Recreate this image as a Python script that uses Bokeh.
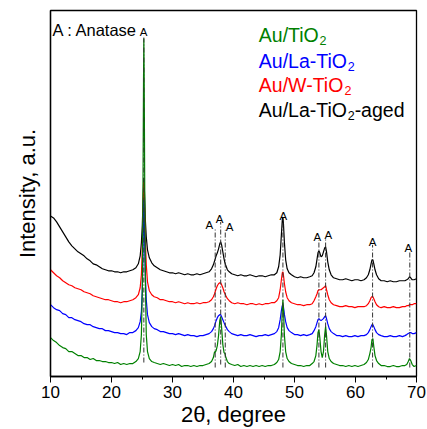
from bokeh.plotting import figure
from bokeh.models import Range1d, FixedTicker, Label
from bokeh.embed import file_html
from bokeh.resources import INLINE
from bokeh.core.properties import value

# ---------------- data ----------------
two_theta = [
    10, 10.5, 11, 11.5, 12, 12.5, 13, 13.5, 14, 14.5, 15, 15.5, 16, 16.5, 17, 17.5, 18, 18.5, 19, 19.5, 20, 20.5, 21, 21.5, 22, 22.5, 23, 23.5, 24,
    24.4, 24.7, 24.9, 25.05, 25.15, 25.25, 25.3, 25.35, 25.45, 25.55, 25.7, 25.9, 26.2, 26.6,
    27, 27.5, 28, 28.5, 29, 29.5, 30, 30.5, 31, 31.5, 32, 32.5, 33, 33.5, 34, 34.5, 35, 35.5, 36,
    36.4, 36.7, 36.9, 37.0, 37.15, 37.35, 37.55, 37.75, 37.9, 38.05, 38.25, 38.45, 38.6, 38.75, 39.0, 39.3, 39.7,
    40.2, 40.7, 41.2, 41.7, 42.2, 42.7, 43.2, 43.7, 44.2, 44.7, 45.2, 45.7, 46.2, 46.7,
    47.1, 47.4, 47.65, 47.85, 48.0, 48.1, 48.2, 48.35, 48.55, 48.8, 49.1, 49.5,
    50, 50.5, 51, 51.5, 52, 52.5,
    52.9, 53.2, 53.5, 53.7, 53.85, 54.0, 54.15, 54.35, 54.55, 54.75, 54.95, 55.1, 55.25, 55.45, 55.7, 56.0, 56.4,
    56.9, 57.4, 57.9, 58.4, 58.9, 59.4, 59.9, 60.4, 60.9, 61.4,
    61.8, 62.1, 62.35, 62.55, 62.7, 62.85, 63.0, 63.2, 63.45, 63.8,
    64.2, 64.7, 65.2, 65.7, 66.2, 66.7, 67.2, 67.7,
    68.1, 68.4, 68.65, 68.85, 69.05, 69.3, 69.6, 70,
]

au_tio2 = [
    39, 36, 34, 31, 29, 28, 25, 25, 23, 21, 21, 19, 19, 17, 18, 16, 16, 15, 15, 14, 14, 13, 14, 12, 13, 12, 13, 13, 15,
    18, 25, 42, 87, 177, 297, 339, 307, 187, 97, 42, 25, 18, 15,
    14, 13, 12, 13, 12, 11, 12, 11, 12, 10, 11, 11, 10, 11, 10, 11, 11, 12, 13,
    15, 19, 25, 24, 26, 31, 41, 56, 60, 49, 32, 24, 23, 19, 15, 13, 12,
    11, 12, 10, 11, 10, 11, 10, 11, 10, 11, 10, 11, 11, 12,
    14, 17, 25, 42, 67, 77, 66, 41, 25, 18, 15, 13,
    12, 11, 11, 10, 11, 11,
    13, 15, 21, 32, 44, 47, 39, 25, 19, 25, 42, 50, 41, 25, 18, 15, 13,
    12, 11, 11, 10, 11, 10, 11, 10, 11, 12,
    14, 17, 23, 29, 37, 38, 30, 21, 16, 13,
    11, 11, 10, 10, 11, 10, 10, 11,
    11, 12, 15, 18, 16, 12, 10, 11,
]

au_la_tio2 = [
    72, 69, 67, 66, 63, 62, 59, 59, 57, 56, 55, 53, 52, 52, 50, 49, 48, 48, 46, 46, 45, 44, 44, 43, 43, 42, 44, 44, 46,
    49, 55, 65, 87, 117, 162, 177, 165, 132, 102, 77, 62, 54, 50,
    48, 47, 45, 45, 44, 43, 43, 42, 43, 42, 41, 42, 41, 41, 40, 41, 41, 42, 43,
    45, 48, 51, 53, 56, 59, 61, 62, 62, 60, 57, 54, 52, 50, 47, 45, 43,
    42, 41, 42, 41, 41, 42, 41, 40, 41, 41, 42, 41, 42, 43,
    45, 49, 57, 66, 71, 72, 69, 62, 55, 49, 46, 44,
    42, 42, 41, 42, 41, 42,
    43, 46, 50, 54, 57, 58, 57, 56, 57, 58, 60, 61, 58, 53, 48, 45, 43,
    41, 41, 40, 41, 40, 40, 41, 40, 41, 41,
    42, 44, 47, 50, 52, 52, 50, 47, 44, 42,
    41, 40, 40, 41, 40, 40, 41, 40,
    41, 42, 43, 44, 44, 43, 43, 44,
]

au_w_tio2 = [
    107, 104, 101, 99, 96, 94, 92, 91, 89, 88, 87, 85, 84, 83, 81, 80, 79, 78, 77, 77, 76, 75, 75, 74, 75, 75, 76, 77, 79,
    82, 89, 102, 127, 157, 187, 195, 187, 162, 137, 112, 95, 86, 82,
    80, 79, 77, 77, 76, 75, 75, 74, 75, 74, 73, 74, 73, 73, 74, 73, 74, 74, 75,
    77, 80, 83, 85, 88, 91, 93, 94, 94, 92, 89, 85, 83, 81, 78, 76, 74,
    73, 74, 73, 73, 72, 73, 73, 72, 73, 72, 73, 73, 74, 74,
    76, 79, 87, 97, 104, 105, 101, 93, 85, 79, 76, 74,
    73, 72, 72, 71, 72, 72,
    73, 76, 80, 83, 86, 87, 87, 87, 88, 89, 90, 91, 87, 82, 77, 74, 72,
    71, 70, 70, 71, 70, 70, 69, 70, 70, 70,
    71, 73, 76, 79, 80, 80, 78, 75, 72, 70,
    69, 70, 69, 69, 70, 69, 69, 70,
    70, 71, 71, 72, 72, 72, 73, 73,
]

au_la_tio2_aged = [
    161, 159, 155, 150, 145, 140, 135, 131, 128, 125, 123, 121, 118, 116, 113, 112, 110, 108, 107, 106, 106, 105, 105, 104, 105, 105, 106, 107, 109,
    113, 121, 134, 152, 172, 192, 199, 194, 177, 157, 140, 127, 119, 114,
    111, 109, 107, 106, 105, 104, 104, 103, 104, 103, 102, 103, 102, 102, 103, 102, 103, 104, 105,
    108, 112, 116, 118, 121, 124, 128, 133, 135, 132, 125, 118, 114, 111, 107, 105, 103,
    102, 101, 102, 101, 101, 102, 101, 100, 101, 101, 100, 101, 102, 102,
    104, 110, 122, 142, 157, 160, 152, 134, 117, 108, 104, 102,
    100, 99, 100, 99, 99, 100,
    101, 104, 110, 118, 124, 126, 124, 120, 121, 125, 129, 130, 125, 115, 107, 102, 99,
    98, 97, 97, 98, 97, 96, 97, 97, 96, 97,
    99, 102, 107, 113, 117, 117, 113, 107, 102, 98,
    96, 96, 95, 96, 95, 95, 96, 96,
    96, 97, 98, 100, 99, 97, 97, 98,
]

series_names = ["Au/TiO2", "Au/La-TiO2", "Au/W-TiO2", "Au/La-TiO2-aged"]
series_values = [au_tio2, au_la_tio2, au_w_tio2, au_la_tio2_aged]
anatase_peaks = [25.3, 37.0, 37.9, 38.65, 48.1, 54.0, 55.1, 62.8, 68.9]
x_ticks = [10, 20, 30, 40, 50, 60, 70]
x_minor_ticks = [15, 25, 35, 45, 55, 65]

for s in series_values:
    assert len(s) == len(two_theta), (len(s), len(two_theta))

# ---------------- layout / style ----------------
FONT = "Liberation Sans"
colors = ["#008000", "#0000FF", "#FF0000", "#000000"]
px_per_deg = 366 / 60.0

p = figure(width=427, height=429, output_backend="svg", toolbar_location=None,
           x_range=Range1d(10, 70), y_range=Range1d(0, 367),
           min_border_left=50, min_border_right=11, min_border_top=10, min_border_bottom=52)
p.grid.visible = False
p.background_fill_color = "white"
p.border_fill_color = "white"
p.outline_line_color = "black"
p.outline_line_width = 1.3

p.xaxis.ticker = FixedTicker(ticks=x_ticks, minor_ticks=x_minor_ticks)
p.xaxis.major_tick_out = 6
p.xaxis.major_tick_in = 0
p.xaxis.minor_tick_out = 3
p.xaxis.minor_tick_in = 0
p.xaxis.major_label_standoff = 3
p.xaxis.major_label_text_font = FONT
p.xaxis.major_label_text_font_size = "17px"
p.xaxis.major_label_text_color = "black"
p.xaxis.axis_label = "2θ, degree"
p.xaxis.axis_label_text_font = FONT
p.xaxis.axis_label_text_font_size = "22px"
p.xaxis.axis_label_text_font_style = "normal"
p.xaxis.axis_label_text_color = "black"
p.xaxis.axis_label_standoff = 1

p.yaxis.ticker = FixedTicker(ticks=[])
p.yaxis.major_tick_out = 0
p.yaxis.minor_tick_out = 0
p.yaxis.major_label_standoff = 0
p.yaxis.major_label_text_font_size = "0px"
p.yaxis.axis_label = "Intensity, a.u."
p.yaxis.axis_label_text_font = FONT
p.yaxis.axis_label_text_font_size = "22px"
p.yaxis.axis_label_text_font_style = "normal"
p.yaxis.axis_label_text_color = "black"
p.yaxis.axis_label_standoff = 11

for ax in (p.xaxis, p.yaxis):
    ax.axis_line_width = 1.3
    ax.axis_line_color = "black"
    ax.major_tick_line_color = "black"
    ax.minor_tick_line_color = "black"

# traces (black first, green on top)
for vals, c in reversed(list(zip(series_values, colors))):
    p.line(two_theta, vals, line_color=c, line_width=1.2)

# anatase reference lines and labels
line_tops = [342, 149, 155, 147, 158, 137, 139, 132, 126]
line_bottoms = [14, 9, 12, 9, 9, 9, 9, 9, 9]
label_x = [25.25, 36.05, 37.7, 39.35, 48.15, 53.75, 55.55, 62.8, 68.65]
label_y = [345, 152, 158, 150, 161, 140, 142, 135, 129]
p.segment(x0=anatase_peaks, y0=line_bottoms, x1=anatase_peaks, y1=line_tops,
          line_color="#333333", line_width=1, line_dash="5 2 1 2")
p.text(x=label_x, y=label_y, text=["A"] * len(label_x), text_font=value(FONT),
       text_font_size=value("11.5px"), text_align="center", text_baseline="alphabetic",
       text_color="black")

p.add_layout(Label(x=10.33, y=347, text="A : Anatase", text_font=FONT,
                   text_font_size="16.5px", text_baseline="alphabetic", text_color="black"))

# legend text with subscripts
widths = {'A': 667, 'u': 556, '/': 278, 'T': 611, 'i': 222, 'O': 778, 'L': 556, 'a': 556,
          '-': 333, 'W': 944, 'g': 556, 'e': 556, 'd': 556, '2': 556}

def text_w(s, size):
    return sum(widths.get(ch, 556) for ch in s) / 1000.0 * size

LEG_SIZE = 19.5
SUB_SIZE = 12.5
leg_x0 = 44.15
leg_base = [342, 316, 292, 267]
for name, c, yb in zip(series_names, colors, leg_base):
    pre, post = name.split("2", 1)
    x = leg_x0
    p.add_layout(Label(x=x, y=yb, text=pre, text_font=FONT, text_font_size=f"{LEG_SIZE}px",
                       text_color=c, text_baseline="alphabetic"))
    x += text_w(pre, LEG_SIZE) / px_per_deg
    p.add_layout(Label(x=x, y=yb - 5, text="2", text_font=FONT, text_font_size=f"{SUB_SIZE}px",
                       text_color=c, text_baseline="alphabetic"))
    x += text_w("2", SUB_SIZE) / px_per_deg
    if post:
        p.add_layout(Label(x=x, y=yb, text=post, text_font=FONT, text_font_size=f"{LEG_SIZE}px",
                           text_color=c, text_baseline="alphabetic"))

open("out.html", "w").write(file_html(p, INLINE))
